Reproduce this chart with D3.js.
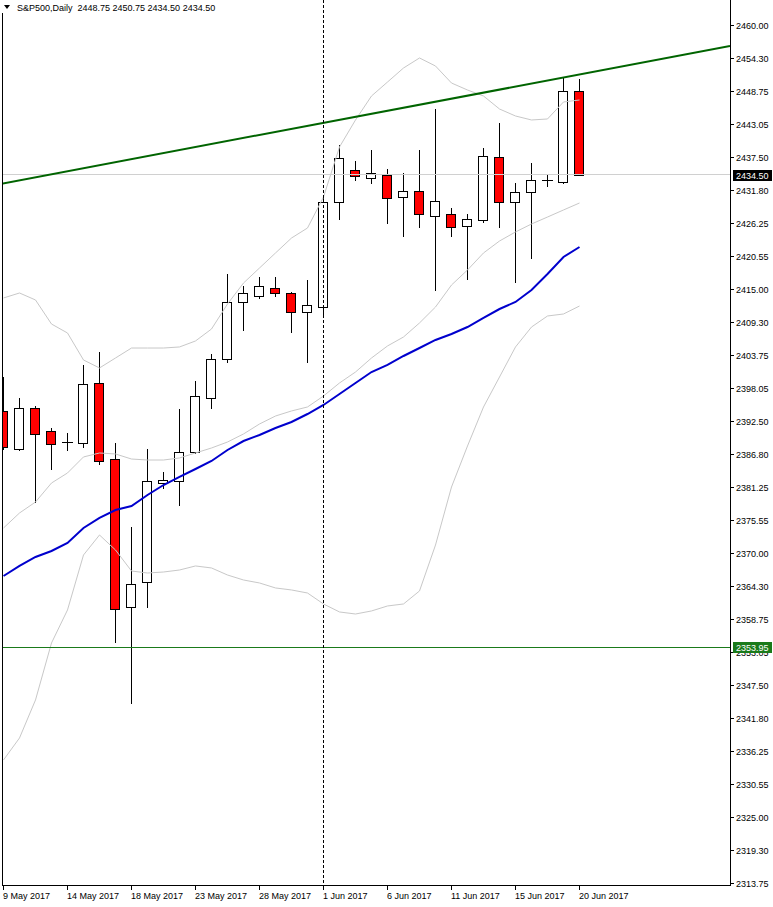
<!DOCTYPE html>
<html><head><meta charset="utf-8">
<script src="https://cdn.jsdelivr.net/npm/d3@7"></script>
<style>
html,body{margin:0;padding:0;background:#fff;}
svg{display:block;}
text{font-family:"Liberation Sans",Arial,sans-serif;font-size:9px;fill:#000;}
</style>
</head><body><div id="chart"></div>
<script>
// ---- data ----
const dates = ["2017-05-09","2017-05-10","2017-05-11","2017-05-12","2017-05-14","2017-05-15","2017-05-16","2017-05-17","2017-05-18","2017-05-19",
"2017-05-21","2017-05-22","2017-05-23","2017-05-24","2017-05-25","2017-05-26","2017-05-28","2017-05-29","2017-05-30","2017-05-31",
"2017-06-01","2017-06-02","2017-06-04","2017-06-05","2017-06-06","2017-06-07","2017-06-08","2017-06-09","2017-06-11","2017-06-12",
"2017-06-13","2017-06-14","2017-06-15","2017-06-16","2017-06-18","2017-06-19","2017-06-20"];
const open  = [2394.25,2387.75,2394.75,2390.75,2389.0,2388.75,2399.0,2386.0,2360.75,2365.0,2382.0,2382.25,2387.25,2396.5,2403.0,2412.75,2413.75,2415.25,2414.25,2411.0,2412.0,2429.75,2435.25,2434.0,2434.5,2430.75,2431.75,2427.5,2427.75,2425.75,2426.75,2437.5,2429.75,2431.5,2433.6,2433.25,2448.75];
const high  = [2400.0,2396.5,2395.0,2391.25,2390.5,2402.0,2404.25,2388.75,2374.5,2387.75,2383.75,2394.5,2399.25,2404.0,2417.5,2415.5,2417.0,2417.0,2414.5,2416.5,2431.0,2439.5,2436.75,2438.75,2435.5,2434.75,2438.75,2445.75,2428.75,2427.75,2439.0,2443.25,2433.0,2436.5,2434.5,2451.0,2450.75];
const low   = [2387.75,2387.5,2378.75,2384.25,2387.5,2388.0,2385.25,2354.75,2344.5,2360.75,2381.0,2378.25,2387.0,2394.75,2402.5,2408.0,2413.5,2413.75,2407.75,2402.5,2410.5,2427.0,2433.5,2433.0,2426.25,2424.0,2425.5,2414.75,2424.0,2416.75,2426.5,2425.5,2416.25,2420.25,2432.5,2433.0,2434.5];
const close = [2388.0,2394.75,2390.25,2388.5,2389.0,2398.75,2385.75,2360.5,2364.75,2382.25,2382.5,2387.25,2396.75,2403.0,2412.75,2414.25,2415.5,2414.25,2411.0,2412.25,2429.75,2437.25,2434.25,2434.75,2430.5,2431.75,2427.75,2430.0,2425.5,2427.0,2437.75,2429.75,2431.5,2433.5,2433.6,2448.75,2434.5];

const bbUpper  = [2413.47,2414.32,2413.13,2409.03,2407.50,2402.90,2401.54,2403.24,2404.94,2404.94,2404.94,2405.12,2406.14,2408.18,2412.44,2416.02,2418.58,2421.14,2423.69,2425.40,2430.68,2439.21,2443.81,2447.90,2450.28,2452.67,2454.38,2453.01,2450.11,2448.92,2447.90,2445.68,2444.49,2443.81,2443.98,2446.88,2447.22];
const bbMiddle = [2374.26,2376.82,2378.69,2381.93,2383.64,2386.37,2387.05,2386.88,2386.02,2385.85,2385.85,2386.20,2387.05,2387.90,2388.92,2390.29,2391.99,2393.35,2394.21,2394.89,2396.76,2398.98,2400.85,2403.24,2405.29,2406.82,2409.21,2411.93,2415.68,2418.24,2421.14,2423.18,2424.72,2426.08,2427.27,2428.47,2429.66];
const bbLower  = [2334.72,2338.47,2344.95,2354.66,2360.29,2369.66,2373.07,2370.51,2366.93,2366.59,2366.76,2367.10,2367.79,2367.45,2366.25,2365.40,2364.89,2364.04,2363.70,2363.18,2361.31,2359.95,2359.60,2360.12,2360.97,2361.31,2363.53,2371.36,2381.25,2388.24,2394.89,2400.00,2405.12,2408.52,2410.40,2410.74,2412.10];
const maBlue   = [2366.08,2367.79,2369.32,2370.34,2371.71,2374.26,2375.97,2377.33,2378.01,2379.89,2381.59,2382.96,2384.32,2385.68,2387.56,2389.09,2390.12,2391.31,2392.33,2393.69,2395.23,2397.10,2398.98,2400.85,2402.05,2403.58,2404.94,2406.31,2407.33,2408.52,2410.06,2411.59,2412.79,2414.83,2417.56,2420.46,2422.16];

const priceTicks = [2460.00,2454.30,2448.75,2443.05,2437.50,2431.80,2426.25,2420.55,2415.00,2409.30,2403.75,2398.05,2392.50,2386.80,2381.25,2375.55,2370.00,2364.30,2358.75,2353.05,2347.50,2341.80,2336.25,2330.55,2325.00,2319.30,2313.75];
const dateTickIdx = [0,4,8,12,16,20,24,28,32,36];
const dateTickLabels = ["9 May 2017","14 May 2017","18 May 2017","23 May 2017","28 May 2017","1 Jun 2017","6 Jun 2017","11 Jun 2017","15 Jun 2017","20 Jun 2017"];
const trendIdx = [0,36];
const trendPrice = [2433.0,2451.55];
const hLevel = 2353.95;
const lastPrice = 2434.50;
const separatorIdx = 20;
const title = "S&P500,Daily  2448.75 2450.75 2434.50 2434.50";

// ---- layout ----
const W = 773, H = 907;
const plotL = 2, plotR = 730, plotB = 885;
const svg = d3.select("#chart").append("svg").attr("width", W).attr("height", H);
const y = d3.scaleLinear().domain([2313.75, 2460]).range([883, 25]);
const x = d3.scaleLinear().domain([0, 36]).range([3, 579]);
const idx = d3.range(dates.length);

svg.append("defs").append("clipPath").attr("id","plot")
  .append("rect").attr("x", plotL + 1).attr("y", 0).attr("width", plotR - plotL - 1).attr("height", plotB);

const g = svg.append("g").attr("clip-path","url(#plot)");
const snap = v => Math.round(v) + 0.5;

// candles
const cg = g.append("g");
idx.forEach(i => {
  const cx = x(i);
  cg.append("line").attr("x1", cx + 0.5).attr("x2", cx + 0.5)
    .attr("y1", Math.round(y(high[i]))).attr("y2", Math.round(y(low[i])) + 1)
    .attr("stroke", "#000").attr("stroke-width", 1);
  const top = Math.round(y(Math.max(open[i], close[i])));
  const bot = Math.round(y(Math.min(open[i], close[i])));
  if (bot - top < 1) {
    cg.append("line").attr("x1", cx - 5).attr("x2", cx + 6)
      .attr("y1", top + 0.5).attr("y2", top + 0.5).attr("stroke", "#000");
  } else {
    cg.append("rect").attr("x", cx - 4.5).attr("y", top + 0.5)
      .attr("width", 9).attr("height", bot - top)
      .attr("fill", close[i] >= open[i] ? "#ffffff" : "#ff0000")
      .attr("stroke", "#000").attr("stroke-width", 1);
  }
});

// indicators
const line = arr => d3.line().x((d, i) => x(i) + 0.5).y(d => y(d))(arr);
[bbUpper, bbMiddle, bbLower].forEach(arr => {
  g.append("path").attr("d", line(arr)).attr("fill","none").attr("stroke","#c8c8c8").attr("stroke-width",1);
});
g.append("path").attr("d", line(maBlue)).attr("fill","none").attr("stroke","#0000cd").attr("stroke-width",2);

// current price line
g.append("line").attr("x1", plotL).attr("x2", plotR).attr("y1", snap(y(lastPrice)) - 1).attr("y2", snap(y(lastPrice)) - 1)
  .attr("stroke", "#d0d0d0").attr("stroke-width", 1);

// horizontal level
g.append("line").attr("x1", plotL).attr("x2", plotR).attr("y1", snap(y(hLevel))).attr("y2", snap(y(hLevel)))
  .attr("stroke", "#1a7a1a").attr("stroke-width", 1);

// trendline (extended to right edge)
const slope = (trendPrice[1] - trendPrice[0]) / (trendIdx[1] - trendIdx[0]);
const iL = x.invert(plotL), iR = x.invert(plotR);
g.append("line")
  .attr("x1", plotL).attr("y1", y(trendPrice[0] + slope * (iL - trendIdx[0])))
  .attr("x2", plotR).attr("y2", y(trendPrice[0] + slope * (iR - trendIdx[0])))
  .attr("stroke", "#006400").attr("stroke-width", 2);

// period separator
svg.append("line").attr("x1", x(separatorIdx) + 0.5).attr("x2", x(separatorIdx) + 0.5)
  .attr("y1", 0).attr("y2", plotB).attr("stroke", "#000").attr("stroke-dasharray", "3,2");

// frame
svg.append("line").attr("x1", plotL + 0.5).attr("x2", plotL + 0.5).attr("y1", 13).attr("y2", plotB + 0.5).attr("stroke", "#000");
svg.append("line").attr("x1", plotR + 0.5).attr("x2", plotR + 0.5).attr("y1", 0).attr("y2", plotB + 0.5).attr("stroke", "#000");
svg.append("line").attr("x1", plotL).attr("x2", plotR + 1).attr("y1", plotB + 0.5).attr("y2", plotB + 0.5).attr("stroke", "#000");

// right price axis
const ya = svg.append("g");
priceTicks.forEach(v => {
  const yy = Math.round(y(v)) + 0.5;
  ya.append("line").attr("x1", plotR + 1).attr("x2", plotR + 4).attr("y1", yy).attr("y2", yy).attr("stroke", "#000");
  ya.append("text").attr("x", 736).attr("y", yy + 3.5).text(v.toFixed(2));
});

// bottom date axis
dateTickIdx.forEach((t, k) => {
  const xx = x(t) + 0.5;
  svg.append("line").attr("x1", xx).attr("x2", xx).attr("y1", plotB + 1).attr("y2", plotB + 5).attr("stroke", "#000");
  svg.append("text").attr("x", x(t)).attr("y", 899).text(dateTickLabels[k]);
});

// price labels boxes
function tag(v, bg) {
  const yy = Math.round(y(v));
  svg.append("rect").attr("x", 733).attr("y", yy - 5).attr("width", 39).attr("height", 11).attr("fill", bg);
  svg.append("text").attr("x", 736).attr("y", yy + 3.5).style("fill", "#fff").text(v.toFixed(2));
}
tag(hLevel, "#1a7a1a");
tag(lastPrice, "#000");

// title
svg.append("path").attr("d", "M4,5 L10,5 L7,9 Z").attr("fill", "#000");
svg.append("text").attr("x", 17).attr("y", 10.5).style("white-space", "pre").attr("xml:space","preserve").text(title);
</script>
</body></html>
